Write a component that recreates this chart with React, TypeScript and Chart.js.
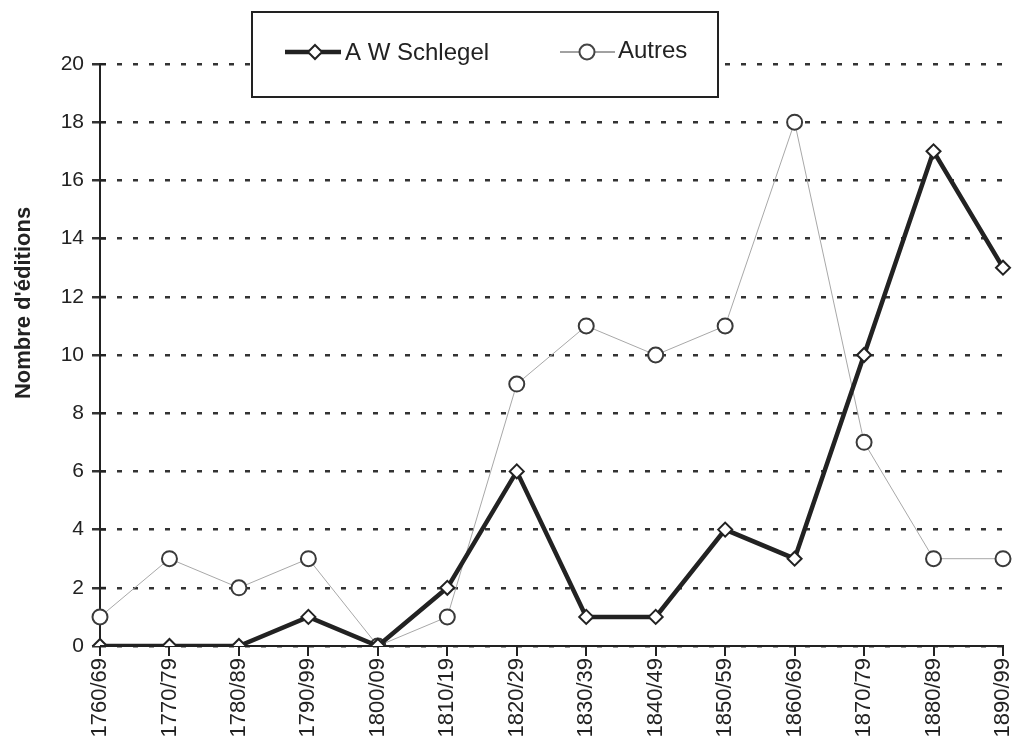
import React, { useEffect, useRef } from "react";
import { Chart, registerables } from "chart.js";

Chart.register(...registerables);

const categories = [
  "1760/69", "1770/79", "1780/89", "1790/99", "1800/09", "1810/19", "1820/29",
  "1830/39", "1840/49", "1850/59", "1860/69", "1870/79", "1880/89", "1890/99",
];
const schlegel = [0, 0, 0, 1, 0, 2, 6, 1, 1, 4, 3, 10, 17, 13];
const autres = [1, 3, 2, 3, 0, 1, 9, 11, 10, 11, 18, 7, 3, 3];
const yTitle = "Nombre d'éditions";
const legendLabels = ["A W Schlegel", "Autres"];

const FONT = "'Liberation Sans', Arial, sans-serif";

const decorPlugin = {
  id: "decor",
  afterDraw(chart: any) {
    const ctx = chart.ctx as CanvasRenderingContext2D;
    const area = chart.chartArea;
    const yScale = chart.scales.y;
    ctx.save();
    ctx.strokeStyle = "#222";
    ctx.lineWidth = 2;
    for (const t of yScale.ticks) {
      const py = yScale.getPixelForValue(t.value);
      ctx.beginPath();
      ctx.moveTo(area.left, py);
      ctx.lineTo(area.left + 6, py);
      ctx.stroke();
    }
    ctx.fillStyle = "#222";
    ctx.font = `bold 22px ${FONT}`;
    ctx.textAlign = "center";
    ctx.textBaseline = "middle";
    ctx.translate(24, 303);
    ctx.rotate(-Math.PI / 2);
    ctx.fillText(yTitle, 0, 0);
    ctx.restore();

    ctx.save();
    const x = 252, y = 12, w = 466, h = 85;
    ctx.fillStyle = "#fff";
    ctx.fillRect(x, y, w, h);
    ctx.strokeStyle = "#222";
    ctx.lineWidth = 2;
    ctx.strokeRect(x, y, w, h);
    const cy = 52;
    ctx.strokeStyle = "#222";
    ctx.lineWidth = 4.5;
    ctx.beginPath();
    ctx.moveTo(285, cy);
    ctx.lineTo(341, cy);
    ctx.stroke();
    ctx.fillStyle = "#fff";
    ctx.lineWidth = 2;
    ctx.beginPath();
    ctx.moveTo(315, cy - 7);
    ctx.lineTo(322, cy);
    ctx.lineTo(315, cy + 7);
    ctx.lineTo(308, cy);
    ctx.closePath();
    ctx.fill();
    ctx.stroke();
    ctx.strokeStyle = "#444";
    ctx.lineWidth = 1;
    ctx.beginPath();
    ctx.moveTo(560, cy);
    ctx.lineTo(615, cy);
    ctx.stroke();
    ctx.lineWidth = 2;
    ctx.beginPath();
    ctx.arc(587, cy, 7.5, 0, Math.PI * 2);
    ctx.fillStyle = "#fff";
    ctx.fill();
    ctx.stroke();
    ctx.fillStyle = "#222";
    ctx.font = `24px ${FONT}`;
    ctx.textBaseline = "middle";
    ctx.textAlign = "left";
    ctx.fillText(legendLabels[0], 345, cy + 1);
    ctx.fillText(legendLabels[1], 618, cy - 1);
    ctx.restore();
  },
};

export default function App() {
  const ref = useRef<HTMLCanvasElement>(null);
  useEffect(() => {
    document.body.style.margin = "0";
    const chart = new Chart(ref.current!, {
      type: "line",
      data: {
        labels: categories,
        datasets: [
          {
            label: legendLabels[1],
            data: autres,
            borderColor: "#a8a8a8",
            borderWidth: 1,
            pointStyle: "circle",
            pointRadius: 7.5,
            pointBorderWidth: 2,
            pointBorderColor: "#3a3a3a",
            pointBackgroundColor: "#fff",
            tension: 0,
            order: 2,
          },
          {
            label: legendLabels[0],
            data: schlegel,
            borderColor: "#222",
            borderWidth: 4.5,
            pointStyle: "rectRot",
            pointRadius: 7,
            pointBorderWidth: 2,
            pointBorderColor: "#222",
            pointBackgroundColor: "#fff",
            tension: 0,
            order: 1,
          },
        ],
      },
      options: {
        animation: false,
        responsive: false,
        layout: { padding: { top: 64, right: 0, bottom: 0, left: 0 } },
        plugins: { legend: { display: false }, tooltip: { enabled: false } },
        scales: {
          x: {
            offset: false,
            afterFit: (s: any) => { s.height = 91; s.paddingRight = 10; s.paddingLeft = 0; },
            grid: { drawOnChartArea: false, drawTicks: true, tickLength: 10, color: "#222", lineWidth: 2 },
            border: { display: true, color: "#222", width: 2 },
            ticks: {
              color: "#222",
              font: { family: FONT, size: 22 },
              maxRotation: 90,
              minRotation: 90,
              autoSkip: false,
              padding: 2,
            },
          },
          y: {
            min: 0,
            max: 20,
            afterFit: (s: any) => { s.width = 100; },
            grid: { color: "#333", lineWidth: 2.5, tickLength: 8, drawTicks: true },
            border: { display: true, color: "#222", width: 2, dash: [5, 11] },
            ticks: {
              stepSize: 2,
              color: "#222",
              font: { family: FONT, size: 21 },
              padding: 8,
            },
          },
        },
      },
      plugins: [decorPlugin],
    });
    return () => chart.destroy();
  }, []);
  return <canvas ref={ref} width={1013} height={737} style={{ display: "block" }} />;
}
